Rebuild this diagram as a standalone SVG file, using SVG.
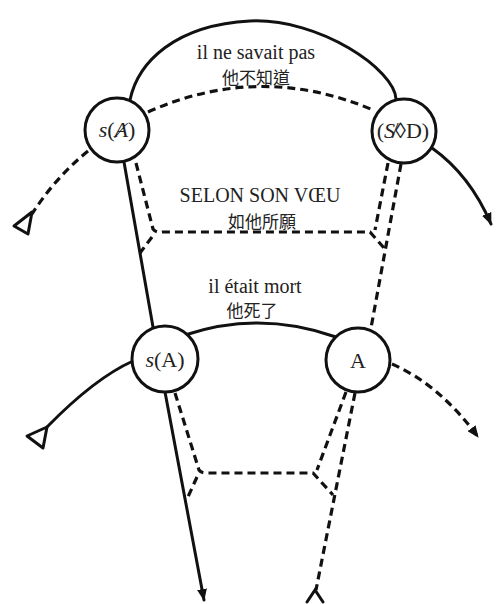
<svg xmlns="http://www.w3.org/2000/svg" width="496" height="604" viewBox="0 0 496 604">
  <style>
    .solid { fill: none; stroke: #111; stroke-width: 3; stroke-linecap: round; }
    .dash { fill: none; stroke: #111; stroke-width: 3.2; stroke-dasharray: 8 5; }
    .node circle { fill: #fff; stroke: #111; stroke-width: 3; }
    .lbl { font-family: "Liberation Serif", "Times New Roman", serif; font-size: 22px; fill: #222; text-anchor: middle; }
    .fr { font-family: "Liberation Serif", "Times New Roman", serif; font-size: 20px; fill: #222; text-anchor: middle; }
    .zh { font-family: "Liberation Serif", "Noto Sans CJK TC", serif; font-size: 17px; fill: #222; text-anchor: middle; }
    .open { fill: #fff; stroke: #111; stroke-width: 3; stroke-linejoin: round; }
  </style>
  <defs>
    <marker id="head" viewBox="0 0 12 10" refX="11" refY="5" markerWidth="12" markerHeight="10" markerUnits="userSpaceOnUse" orient="auto">
      <path d="M0,0 L12,5 L0,10 z" fill="#111" stroke="none"/>
    </marker>
  </defs>
  <rect width="496" height="604" fill="#fff"/>

  <g id="connectors">
    <!-- upper solid arc s(A-barred) to ($<>D) -->
    <path class="solid" d="M130,100 C138,62 175,25 250,21 C320,18 395,70 396,99"/>
    <!-- upper dashed arc -->
    <path class="dash" d="M148,112 Q260,62 373,110"/>
    <!-- dashed exit to the upper left -->
    <path class="dash" d="M88,151 Q55,178 32,214"/>
    <polygon class="open" points="32,212 28,234 14,226"/>
    <!-- solid exit from ($<>D) -->
    <path class="solid" d="M432,148 Q470,175 491,224" marker-end="url(#head)"/>
    <!-- main vertical solid line -->
    <path class="solid" d="M124,162 L153,327"/>
    <path class="solid" d="M165,392 L204,600" marker-end="url(#head)"/>
    <!-- lower solid arc s(A) to A -->
    <path class="solid" d="M185,335 Q260,310 336,337"/>
    <!-- solid exit to the lower left -->
    <path class="solid" d="M133,361 Q95,378 47,427"/>
    <polygon class="open" points="47,427 27,436 43,448"/>
    <!-- dashed exit from A -->
    <path class="dash" d="M392,364 Q440,385 478,437" marker-end="url(#head)"/>

    <!-- upper dashed frame -->
    <path class="dash" d="M136,163 L153,229 Q156,233 162,232 L370,232 L385,249"/>
    <path class="dash" d="M152,237 L140,253"/>
    <path class="dash" d="M388,163 L375,230"/>
    <path class="dash" d="M401,164 L371,328"/>

    <!-- lower dashed frame -->
    <path class="dash" d="M175,393 L199,470 Q201,473 206,473 L313,473 L333,495"/>
    <path class="dash" d="M197,477 L187,499"/>
    <path class="dash" d="M346,392 L317,470"/>
    <path class="dash" d="M355,393 L316,590"/>
    <polyline class="solid" points="307,602 315,590 323,602"/>
  </g>

  <g id="node-s-Abarred" class="node">
    <circle cx="117" cy="130" r="32"/>
    <text class="lbl" x="117" y="137"><tspan font-style="italic">s</tspan>(<tspan font-style="italic">Ⱥ</tspan>)</text>
  </g>
  <g id="node-sdiamondD" class="node">
    <circle cx="404" cy="131" r="32"/>
    <text class="lbl" x="403" y="138" font-size="20">(<tspan font-style="italic">S̸</tspan>◊D)</text>
  </g>
  <g id="node-sA" class="node">
    <circle cx="165" cy="359" r="33"/>
    <text class="lbl" x="165" y="367"><tspan font-style="italic">s</tspan>(A)</text>
  </g>
  <g id="node-A" class="node">
    <circle cx="358" cy="360" r="32"/>
    <text class="lbl" x="358" y="368">A</text>
  </g>

  <g id="labels">
    <text class="fr" x="256" y="59">il ne savait pas</text>
    <text class="zh" x="256" y="84">他不知道</text>
    <text class="fr" x="260" y="202">SELON SON VŒU</text>
    <text class="zh" x="262" y="228">如他所願</text>
    <text class="fr" x="255" y="293">il était mort</text>
    <text class="zh" x="252" y="317">他死了</text>
  </g>
</svg>
